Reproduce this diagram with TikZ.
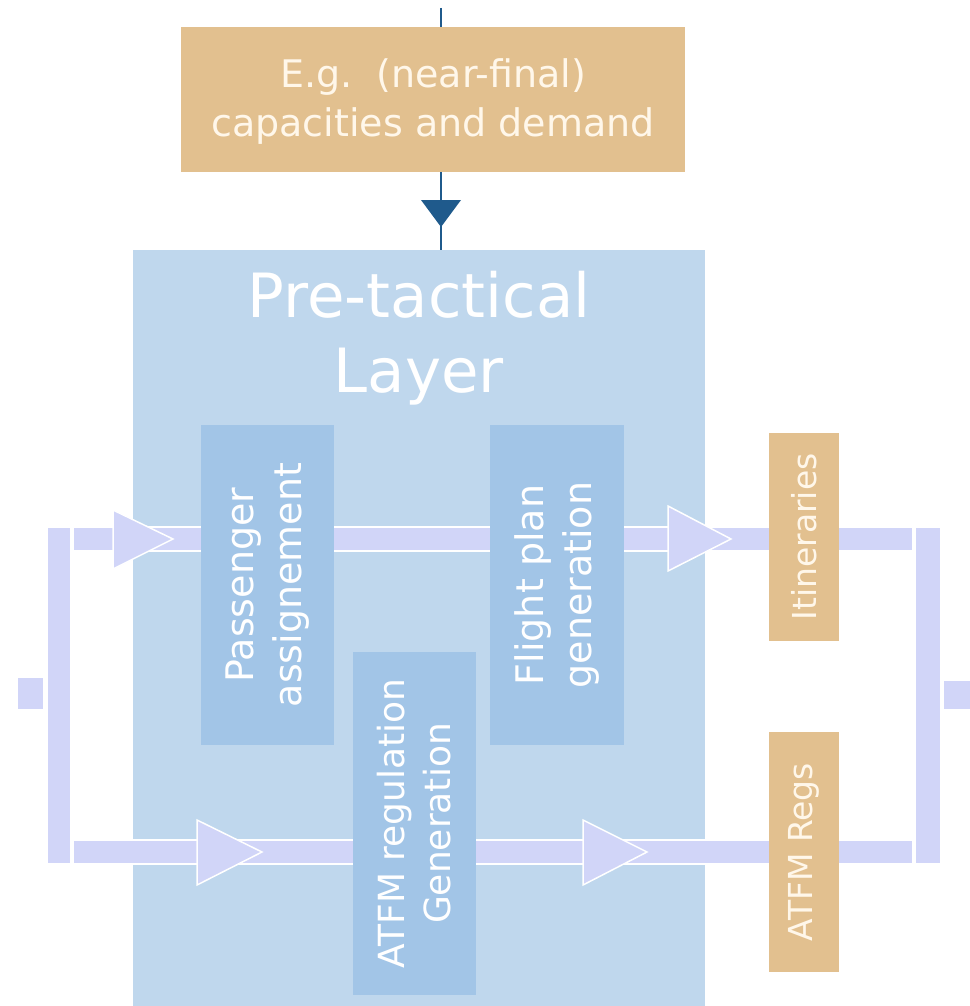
\documentclass[tikz,border=0pt]{standalone}
\usepackage{fontspec}
\setmainfont{DejaVu Sans}

\definecolor{tanc}{RGB}{226,192,143}
\definecolor{layerc}{RGB}{191,215,237}
\definecolor{taskc}{RGB}{162,197,231}
\definecolor{bandc}{RGB}{209,213,248}
\definecolor{linec}{RGB}{31,90,140}
\definecolor{creamc}{RGB}{255,247,234}

\tikzset{
  box/.style={draw=none, inner sep=0pt, outer sep=0pt},
  tanbox/.style={box, fill=tanc},
  layerbox/.style={box, fill=layerc},
  taskbox/.style={box, fill=taskc},
  lbl/.style={align=center, inner sep=0pt, text=white},
  tanlbl/.style={align=center, inner sep=0pt, text=creamc},
  band/.style={fill=bandc, draw=white, line width=1.5pt},
  head/.style={fill=bandc, draw=white, line width=1.5pt, line join=miter},
  feed/.style={draw=linec, line width=2pt},
  feedtip/.style={fill=linec},
}

\begin{document}
\begin{tikzpicture}[x=1pt,y=-1pt]
  % page
  \fill[white] (0,0) rectangle (969,1006);
  \useasboundingbox (0,0) rectangle (969,1006);

  % layer container
  \node[layerbox, minimum width=572pt, minimum height=756pt] (layer) at (419,628) {};

  % flow bands
  \fill[band] (17,677) rectangle (44,710);    % left feed stub
  \fill[band] (47,527) rectangle (71,864);    % left splitter bar
  \fill[band] (73,527) rectangle (913,551);   % upper band
  \fill[band] (73,840) rectangle (913,864);   % lower band
  \fill[band] (915,527) rectangle (941,864);  % right merger bar
  \fill[band] (943,680) rectangle (975,710);  % right out stub

  % band arrowheads
  \draw[head] (113,510) -- (173,539) -- (113,569) -- cycle;
  \draw[head] (668,506) -- (731,539) -- (668,571) -- cycle;
  \draw[head] (197,820) -- (262,852) -- (197,885) -- cycle;
  \draw[head] (583,820) -- (647,852) -- (583,885) -- cycle;

  % process boxes
  \node[taskbox, minimum width=133pt, minimum height=320pt] (pax) at (267.5,585) {};
  \node[taskbox, minimum width=134pt, minimum height=320pt] (fpg) at (557,585) {};
  \node[taskbox, minimum width=123pt, minimum height=343pt] (atfm) at (414.5,823.5) {};

  % data boxes
  \node[tanbox, minimum width=504pt, minimum height=145pt] (src) at (433,99.5) {};
  \node[tanbox, minimum width=70pt, minimum height=208pt] (itin) at (804,537) {};
  \node[tanbox, minimum width=70pt, minimum height=240pt] (regs) at (804,852) {};

  % feed into the layer
  \coordinate (feedtop) at (441,8);
  \draw[feed] (feedtop) -- (feedtop |- src.north);
  \draw[feed] (feedtop |- src.south) -- (feedtop |- layer.north);
  \fill[feedtip] (421,200) -- (461,200) -- (441,227) -- cycle;

  % labels
  \node[tanlbl, font=\fontsize{38}{49}\selectfont] (srclbl) at ([yshift=-2pt]src.center) {E.g.~~(near-final)\\capacities and demand};
  \node[lbl, font=\fontsize{61}{75}\selectfont] (layerlbl) at (419,338) {Pre-tactical\\Layer};
  \node[lbl, rotate=90, font=\fontsize{38}{48}\selectfont] (paxlbl) at (pax.center) {Passenger\\assignement};
  \node[lbl, rotate=90, font=\fontsize{38}{48}\selectfont] (fpglbl) at (fpg.center) {Flight plan\\generation};
  \node[lbl, rotate=90, font=\fontsize{36}{46}\selectfont] (atfmlbl) at (atfm.center) {ATFM regulation\\Generation};
  \node[tanlbl, rotate=90, font=\fontsize{33}{40}\selectfont] (itinlbl) at (itin.center) {Itineraries};
  \node[tanlbl, rotate=90, font=\fontsize{33}{40}\selectfont] (regslbl) at (regs.center) {ATFM Regs};
\end{tikzpicture}
\end{document}
